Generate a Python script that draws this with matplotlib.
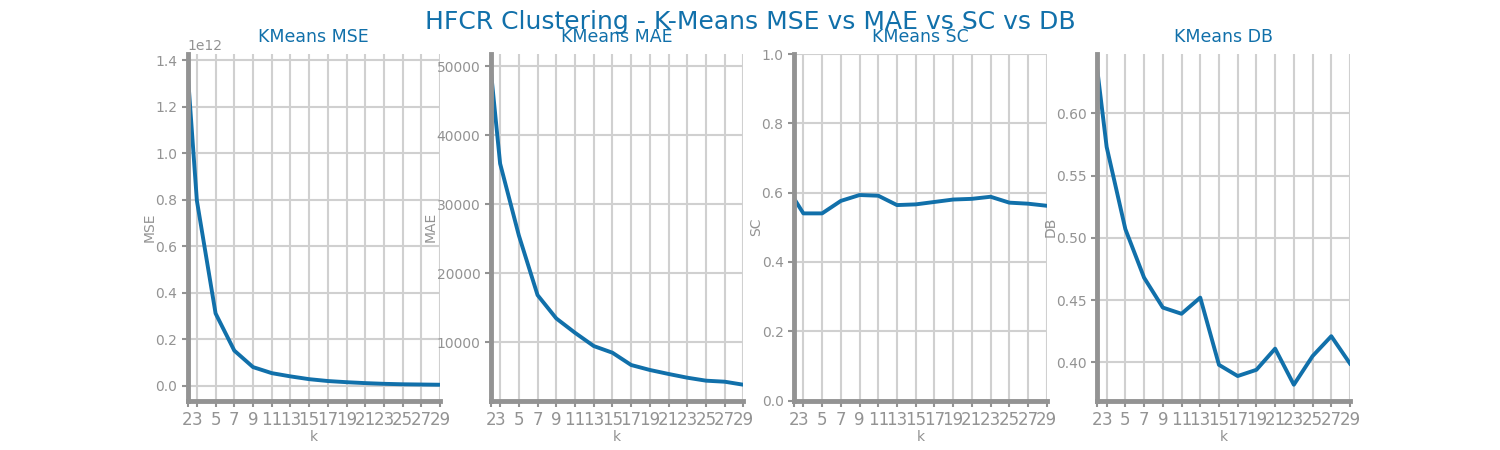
import numpy as np
import matplotlib
matplotlib.use("Agg")
import matplotlib.pyplot as plt

k_values = [2, 3, 5, 7, 9, 11, 13, 15, 17, 19, 21, 23, 25, 27, 29]

mse = [1.36e12, 0.797e12, 0.311e12, 0.151e12, 0.080e12, 0.054e12, 0.040e12, 0.028e12,
       0.020e12, 0.015e12, 0.011e12, 0.008e12, 0.006e12, 0.005e12, 0.004e12]
mae = [49500, 35900, 25500, 16850, 13470, 11390, 9470, 8500,
       6720, 6000, 5420, 4880, 4450, 4300, 3860]
sc = [0.583, 0.540, 0.540, 0.576, 0.593, 0.591, 0.564, 0.566,
      0.573, 0.580, 0.582, 0.588, 0.571, 0.568, 0.562]
db = [0.635, 0.573, 0.507, 0.468, 0.444, 0.439, 0.452, 0.398,
      0.389, 0.394, 0.411, 0.382, 0.405, 0.421, 0.399]

blue = "#1170aa"
gray = "#939393"
grid_col = "#d0d0d0"

fig, axs = plt.subplots(1, 4, figsize=(15, 4.5), dpi=100)
fig.suptitle("HFCR Clustering - K-Means MSE vs MAE vs SC vs DB", color=blue, fontsize=18, y=0.978)

panels = [("MSE", mse, None), ("MAE", mae, None), ("SC", sc, (0.0, 1.0)), ("DB", db, None)]
for ax, (name, vals, ylim) in zip(axs, panels):
    ax.plot(k_values, vals, color=blue, linewidth=2.8)
    ax.set_title("KMeans " + name, color=blue, fontsize=12.5, pad=9)
    ax.set_xlabel("k", color=gray, fontsize=10, labelpad=1)
    ax.set_ylabel(name, color=gray, fontsize=10, labelpad=-1)
    ax.set_xlim(2, 29)
    if ylim:
        ax.set_ylim(*ylim)
    ax.set_xticks(k_values)
    ax.tick_params(axis="x", labelsize=12, colors=gray, width=1.5, length=4)
    ax.tick_params(axis="y", labelsize=10, colors=gray, width=1.5, length=4)
    ax.grid(True, color=grid_col, linewidth=1.5)
    ax.set_axisbelow(True)
    for side in ("top", "right"):
        ax.spines[side].set_visible(False)
    for side in ("left", "bottom"):
        ax.spines[side].set_color(gray)
        ax.spines[side].set_linewidth(3.5)
    ax.yaxis.get_offset_text().set_color(gray)

plt.savefig("out.png")
